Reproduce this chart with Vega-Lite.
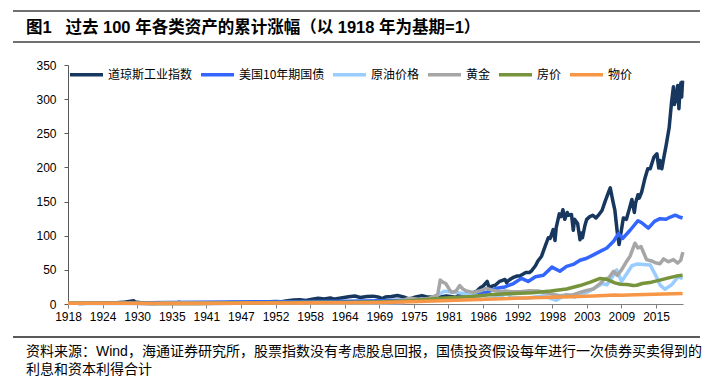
{
"$schema": "https://vega.github.io/schema/vega-lite/v6.json",
"width": 615, "height": 239,
"autosize": {"type": "none"},
"padding": {"left": 68, "top": 65, "right": 37, "bottom": 82},
"background": "white",
"config": {"view": {"stroke": null}, "font": "Liberation Sans, Noto Sans CJK SC", "axis": {"labelOverlap": false}},
"resolve": {"axis": {"x": "independent", "y": "independent"}},
"datasets": {
"series": [
{"series":"道琼斯工业指数","year":1918.92,"value":1.0},{"series":"道琼斯工业指数","year":1919.9,"value":1.3},{"series":"道琼斯工业指数","year":1920.9,"value":0.9},{"series":"道琼斯工业指数","year":1921.9,"value":1.0},{"series":"道琼斯工业指数","year":1922.9,"value":1.2},{"series":"道琼斯工业指数","year":1923.9,"value":1.2},{"series":"道琼斯工业指数","year":1924.9,"value":1.5},{"series":"道琼斯工业指数","year":1925.9,"value":1.9},{"series":"道琼斯工业指数","year":1926.9,"value":1.9},{"series":"道琼斯工业指数","year":1927.9,"value":2.4},{"series":"道琼斯工业指数","year":1928.9,"value":3.7},{"series":"道琼斯工业指数","year":1929.7,"value":4.6},{"series":"道琼斯工业指数","year":1929.9,"value":3.0},{"series":"道琼斯工业指数","year":1930.9,"value":2.0},{"series":"道琼斯工业指数","year":1931.9,"value":1.0},{"series":"道琼斯工业指数","year":1932.5,"value":0.55},{"series":"道琼斯工业指数","year":1932.9,"value":0.75},{"series":"道琼斯工业指数","year":1933.9,"value":1.2},{"series":"道琼斯工业指数","year":1934.9,"value":1.3},{"series":"道琼斯工业指数","year":1935.9,"value":1.8},{"series":"道琼斯工业指数","year":1936.9,"value":2.2},{"series":"道琼斯工业指数","year":1937.2,"value":2.4},{"series":"道琼斯工业指数","year":1937.9,"value":1.5},{"series":"道琼斯工业指数","year":1938.9,"value":1.9},{"series":"道琼斯工业指数","year":1939.9,"value":1.8},{"series":"道琼斯工业指数","year":1940.9,"value":1.6},{"series":"道琼斯工业指数","year":1941.9,"value":1.35},{"series":"道琼斯工业指数","year":1942.9,"value":1.45},{"series":"道琼斯工业指数","year":1943.9,"value":1.65},{"series":"道琼斯工业指数","year":1944.9,"value":1.85},{"series":"道琼斯工业指数","year":1945.9,"value":2.35},{"series":"道琼斯工业指数","year":1946.9,"value":2.15},{"series":"道琼斯工业指数","year":1947.9,"value":2.2},{"series":"道琼斯工业指数","year":1948.9,"value":2.15},{"series":"道琼斯工业指数","year":1949.9,"value":2.45},{"series":"道琼斯工业指数","year":1950.9,"value":2.9},{"series":"道琼斯工业指数","year":1951.9,"value":3.3},{"series":"道琼斯工业指数","year":1952.9,"value":3.55},{"series":"道琼斯工业指数","year":1953.9,"value":3.45},{"series":"道琼斯工业指数","year":1954.9,"value":4.9},{"series":"道琼斯工业指数","year":1955.9,"value":5.9},{"series":"道琼斯工业指数","year":1956.9,"value":6.1},{"series":"道琼斯工业指数","year":1957.9,"value":5.3},{"series":"道琼斯工业指数","year":1958.9,"value":7.1},{"series":"道琼斯工业指数","year":1959.9,"value":8.3},{"series":"道琼斯工业指数","year":1960.9,"value":7.5},{"series":"道琼斯工业指数","year":1961.9,"value":8.9},{"series":"道琼斯工业指数","year":1962.5,"value":7.0},{"series":"道琼斯工业指数","year":1962.9,"value":7.9},{"series":"道琼斯工业指数","year":1963.9,"value":9.3},{"series":"道琼斯工业指数","year":1964.9,"value":10.7},{"series":"道琼斯工业指数","year":1965.9,"value":11.8},{"series":"道琼斯工业指数","year":1966.8,"value":9.6},{"series":"道琼斯工业指数","year":1967.9,"value":11.0},{"series":"道琼斯工业指数","year":1968.9,"value":11.5},{"series":"道琼斯工业指数","year":1969.9,"value":9.8},{"series":"道琼斯工业指数","year":1970.4,"value":8.0},{"series":"道琼斯工业指数","year":1970.9,"value":10.2},{"series":"道琼斯工业指数","year":1971.9,"value":10.9},{"series":"道琼斯工业指数","year":1972.9,"value":12.4},{"series":"道琼斯工业指数","year":1973.9,"value":10.4},{"series":"道琼斯工业指数","year":1974.8,"value":7.2},{"series":"道琼斯工业指数","year":1975.9,"value":10.4},{"series":"道琼斯工业指数","year":1976.9,"value":12.3},{"series":"道琼斯工业指数","year":1977.9,"value":10.1},{"series":"道琼斯工业指数","year":1978.9,"value":9.8},{"series":"道琼斯工业指数","year":1979.9,"value":10.2},{"series":"道琼斯工业指数","year":1980.9,"value":11.8},{"series":"道琼斯工业指数","year":1981.9,"value":10.7},{"series":"道琼斯工业指数","year":1982.5,"value":9.7},{"series":"道琼斯工业指数","year":1982.9,"value":12.8},{"series":"道琼斯工业指数","year":1983.9,"value":15.2},{"series":"道琼斯工业指数","year":1984.5,"value":13.5},{"series":"道琼斯工业指数","year":1984.9,"value":14.8},{"series":"道琼斯工业指数","year":1985.9,"value":18.9},{"series":"道琼斯工业指数","year":1986.5,"value":24},{"series":"道琼斯工业指数","year":1986.9,"value":26},{"series":"道琼斯工业指数","year":1987.6,"value":33},{"series":"道琼斯工业指数","year":1987.9,"value":24},{"series":"道琼斯工业指数","year":1988.5,"value":26.5},{"series":"道琼斯工业指数","year":1988.9,"value":27.5},{"series":"道琼斯工业指数","year":1989.6,"value":33},{"series":"道琼斯工业指数","year":1989.9,"value":34},{"series":"道琼斯工业指数","year":1990.5,"value":36},{"series":"道琼斯工业指数","year":1990.8,"value":31},{"series":"道琼斯工业指数","year":1990.9,"value":33},{"series":"道琼斯工业指数","year":1991.5,"value":37},{"series":"道琼斯工业指数","year":1991.9,"value":39},{"series":"道琼斯工业指数","year":1992.5,"value":41},{"series":"道琼斯工业指数","year":1992.9,"value":41},{"series":"道琼斯工业指数","year":1993.5,"value":44},{"series":"道琼斯工业指数","year":1993.9,"value":46},{"series":"道琼斯工业指数","year":1994.5,"value":46},{"series":"道琼斯工业指数","year":1994.9,"value":49},{"series":"道琼斯工业指数","year":1995.5,"value":56},{"series":"道琼斯工业指数","year":1995.9,"value":63},{"series":"道琼斯工业指数","year":1996.5,"value":70},{"series":"道琼斯工业指数","year":1996.9,"value":80},{"series":"道琼斯工业指数","year":1997.6,"value":97},{"series":"道琼斯工业指数","year":1997.9,"value":96},{"series":"道琼斯工业指数","year":1998.4,"value":109},{"series":"道琼斯工业指数","year":1998.7,"value":93},{"series":"道琼斯工业指数","year":1998.9,"value":112},{"series":"道琼斯工业指数","year":1999.4,"value":132},{"series":"道琼斯工业指数","year":1999.7,"value":128},{"series":"道琼斯工业指数","year":2000.0,"value":138},{"series":"道琼斯工业指数","year":2000.3,"value":124},{"series":"道琼斯工业指数","year":2000.7,"value":134},{"series":"道琼斯工业指数","year":2000.9,"value":130},{"series":"道琼斯工业指数","year":2001.4,"value":131},{"series":"道琼斯工业指数","year":2001.7,"value":108},{"series":"道琼斯工业指数","year":2001.9,"value":124},{"series":"道琼斯工业指数","year":2002.4,"value":118},{"series":"道琼斯工业指数","year":2002.8,"value":94},{"series":"道琼斯工业指数","year":2003.0,"value":104},{"series":"道琼斯工业指数","year":2003.2,"value":97},{"series":"道琼斯工业指数","year":2003.6,"value":115},{"series":"道琼斯工业指数","year":2003.9,"value":124},{"series":"道琼斯工业指数","year":2004.4,"value":128},{"series":"道琼斯工业指数","year":2004.9,"value":130},{"series":"道琼斯工业指数","year":2005.4,"value":126},{"series":"道琼斯工业指数","year":2005.9,"value":131},{"series":"道琼斯工业指数","year":2006.4,"value":137},{"series":"道琼斯工业指数","year":2006.9,"value":150},{"series":"道琼斯工业指数","year":2007.4,"value":162},{"series":"道琼斯工业指数","year":2007.75,"value":170},{"series":"道琼斯工业指数","year":2008.2,"value":150},{"series":"道琼斯工业指数","year":2008.5,"value":138},{"series":"道琼斯工业指数","year":2008.9,"value":105},{"series":"道琼斯工业指数","year":2009.2,"value":87},{"series":"道琼斯工业指数","year":2009.5,"value":104},{"series":"道琼斯工业指数","year":2009.9,"value":126},{"series":"道琼斯工业指数","year":2010.4,"value":124},{"series":"道琼斯工业指数","year":2010.9,"value":140},{"series":"道琼斯工业指数","year":2011.3,"value":153},{"series":"道琼斯工业指数","year":2011.7,"value":134},{"series":"道琼斯工业指数","year":2011.9,"value":148},{"series":"道琼斯工业指数","year":2012.3,"value":160},{"series":"道琼斯工业指数","year":2012.5,"value":155},{"series":"道琼斯工业指数","year":2012.9,"value":164},{"series":"道琼斯工业指数","year":2013.4,"value":183},{"series":"道琼斯工业指数","year":2013.9,"value":198},{"series":"道琼斯工业指数","year":2014.3,"value":198},{"series":"道琼斯工业指数","year":2014.9,"value":215},{"series":"道琼斯工业指数","year":2015.4,"value":220},{"series":"道琼斯工业指数","year":2015.7,"value":199},{"series":"道琼斯工业指数","year":2015.9,"value":210},{"series":"道琼斯工业指数","year":2016.2,"value":198},{"series":"道琼斯工业指数","year":2016.6,"value":218},{"series":"道琼斯工业指数","year":2016.9,"value":232},{"series":"道琼斯工业指数","year":2017.4,"value":258},{"series":"道琼斯工业指数","year":2017.8,"value":296},{"series":"道琼斯工业指数","year":2018.1,"value":318},{"series":"道琼斯工业指数","year":2018.25,"value":292},{"series":"道琼斯工业指数","year":2018.5,"value":300},{"series":"道琼斯工业指数","year":2018.8,"value":320},{"series":"道琼斯工业指数","year":2019.0,"value":286},{"series":"道琼斯工业指数","year":2019.2,"value":318},{"series":"道琼斯工业指数","year":2019.35,"value":324},{"series":"道琼斯工业指数","year":2019.45,"value":303},{"series":"道琼斯工业指数","year":2019.6,"value":327},

{"series":"美国10年期国债","year":1918.92,"value":1.0},{"series":"美国10年期国债","year":1925,"value":1.3},{"series":"美国10年期国债","year":1930,"value":1.6},{"series":"美国10年期国债","year":1935,"value":2.1},{"series":"美国10年期国债","year":1940,"value":2.6},{"series":"美国10年期国债","year":1945,"value":3.0},{"series":"美国10年期国债","year":1950,"value":3.2},{"series":"美国10年期国债","year":1955,"value":3.4},{"series":"美国10年期国债","year":1960,"value":3.7},{"series":"美国10年期国债","year":1965,"value":4.2},{"series":"美国10年期国债","year":1970,"value":4.6},{"series":"美国10年期国债","year":1975,"value":5.8},{"series":"美国10年期国债","year":1980,"value":6.8},{"series":"美国10年期国债","year":1982,"value":8.5},{"series":"美国10年期国债","year":1984,"value":11.5},{"series":"美国10年期国债","year":1985.5,"value":15},{"series":"美国10年期国债","year":1986.4,"value":16.5},{"series":"美国10年期国债","year":1987.5,"value":17},{"series":"美国10年期国债","year":1989.1,"value":23},{"series":"美国10年期国债","year":1990.5,"value":25},{"series":"美国10年期国债","year":1991.9,"value":30},{"series":"美国10年期国债","year":1993.2,"value":37.5},{"series":"美国10年期国债","year":1994.3,"value":33},{"series":"美国10年期国债","year":1995.5,"value":40},{"series":"美国10年期国债","year":1996.8,"value":42},{"series":"美国10年期国债","year":1998.2,"value":54},{"series":"美国10年期国债","year":1999.5,"value":48},{"series":"美国10年期国债","year":2000.6,"value":55},{"series":"美国10年期国债","year":2001.7,"value":58},{"series":"美国10年期国债","year":2002.8,"value":64},{"series":"美国10年期国债","year":2003.9,"value":67},{"series":"美国10年期国债","year":2005,"value":72},{"series":"美国10年期国债","year":2006.1,"value":77},{"series":"美国10年期国债","year":2007.2,"value":82},{"series":"美国10年期国债","year":2008.3,"value":92},{"series":"美国10年期国债","year":2009.1,"value":103},{"series":"美国10年期国债","year":2009.8,"value":96},{"series":"美国10年期国债","year":2011,"value":108},{"series":"美国10年期国债","year":2012.3,"value":122},{"series":"美国10年期国债","year":2012.9,"value":119},{"series":"美国10年期国债","year":2014.0,"value":111},{"series":"美国10年期国债","year":2015.0,"value":121},{"series":"美国10年期国债","year":2015.9,"value":125},{"series":"美国10年期国债","year":2016.9,"value":124},{"series":"美国10年期国债","year":2017.5,"value":127},{"series":"美国10年期国债","year":2018.4,"value":130},{"series":"美国10年期国债","year":2019.2,"value":127},{"series":"美国10年期国债","year":2019.6,"value":126},

{"series":"原油价格","year":1918.92,"value":1.0},{"series":"原油价格","year":1920,"value":1.5},{"series":"原油价格","year":1921,"value":0.8},{"series":"原油价格","year":1925,"value":0.85},{"series":"原油价格","year":1930,"value":0.6},{"series":"原油价格","year":1931.5,"value":0.3},{"series":"原油价格","year":1935,"value":0.5},{"series":"原油价格","year":1940,"value":0.5},{"series":"原油价格","year":1945,"value":0.6},{"series":"原油价格","year":1948,"value":1.3},{"series":"原油价格","year":1957,"value":1.5},{"series":"原油价格","year":1970,"value":1.6},{"series":"原油价格","year":1973.9,"value":2.2},{"series":"原油价格","year":1974.2,"value":5.5},{"series":"原油价格","year":1978,"value":7.0},{"series":"原油价格","year":1979.5,"value":13},{"series":"原油价格","year":1980.5,"value":18.5},{"series":"原油价格","year":1981.5,"value":18},{"series":"原油价格","year":1982.5,"value":17},{"series":"原油价格","year":1984,"value":15},{"series":"原油价格","year":1985.9,"value":13},{"series":"原油价格","year":1986.5,"value":6.5},{"series":"原油价格","year":1988,"value":8},{"series":"原油价格","year":1989.5,"value":10},{"series":"原油价格","year":1990.8,"value":16},{"series":"原油价格","year":1991.5,"value":10},{"series":"原油价格","year":1994,"value":8.5},{"series":"原油价格","year":1996.9,"value":12},{"series":"原油价格","year":1998.9,"value":5.5},{"series":"原油价格","year":2000.5,"value":14},{"series":"原油价格","year":2001.9,"value":10},{"series":"原油价格","year":2003.9,"value":17},{"series":"原油价格","year":2005.5,"value":25},{"series":"原油价格","year":2006.5,"value":30},{"series":"原油价格","year":2007.2,"value":28},{"series":"原油价格","year":2008.0,"value":38},{"series":"原油价格","year":2008.8,"value":50},{"series":"原油价格","year":2009.6,"value":33},{"series":"原油价格","year":2010.5,"value":45},{"series":"原油价格","year":2011.3,"value":56},{"series":"原油价格","year":2012.1,"value":58.5},{"series":"原油价格","year":2014.3,"value":57},{"series":"原油价格","year":2015.2,"value":42},{"series":"原油价格","year":2015.9,"value":28},{"series":"原油价格","year":2016.7,"value":21.5},{"series":"原油价格","year":2017.8,"value":28},{"series":"原油价格","year":2018.9,"value":40},{"series":"原油价格","year":2019.6,"value":37},

{"series":"黄金","year":1918.92,"value":1.0},{"series":"黄金","year":1934.0,"value":1.0},{"series":"黄金","year":1934.1,"value":1.7},{"series":"黄金","year":1968,"value":1.9},{"series":"黄金","year":1970,"value":1.8},{"series":"黄金","year":1971.5,"value":2.0},{"series":"黄金","year":1972.5,"value":3.0},{"series":"黄金","year":1973.5,"value":5.0},{"series":"黄金","year":1974.9,"value":8.5},{"series":"黄金","year":1976.7,"value":6.5},{"series":"黄金","year":1977.9,"value":8.0},{"series":"黄金","year":1978.9,"value":11},{"series":"黄金","year":1979.5,"value":14},{"series":"黄金","year":1979.9,"value":35},{"series":"黄金","year":1980.3,"value":32},{"series":"黄金","year":1980.8,"value":30},{"series":"黄金","year":1981.5,"value":20},{"series":"黄金","year":1981.8,"value":17},{"series":"黄金","year":1982.5,"value":19},{"series":"黄金","year":1983.1,"value":27},{"series":"黄金","year":1983.6,"value":22},{"series":"黄金","year":1984.2,"value":19},{"series":"黄金","year":1985.3,"value":17},{"series":"黄金","year":1986.3,"value":19},{"series":"黄金","year":1987.5,"value":23},{"series":"黄金","year":1988.5,"value":20},{"series":"黄金","year":1989.7,"value":18},{"series":"黄金","year":1990.5,"value":19},{"series":"黄金","year":1991.5,"value":18},{"series":"黄金","year":1993,"value":18},{"series":"黄金","year":1994.5,"value":19.5},{"series":"黄金","year":1996,"value":19},{"series":"黄金","year":1997.3,"value":16},{"series":"黄金","year":1998.5,"value":14},{"series":"黄金","year":1999.5,"value":12},{"series":"黄金","year":2000.5,"value":13},{"series":"黄金","year":2001.5,"value":13},{"series":"黄金","year":2002.8,"value":17},{"series":"黄金","year":2003.9,"value":20},{"series":"黄金","year":2005,"value":22},{"series":"黄金","year":2006.1,"value":30},{"series":"黄金","year":2006.7,"value":36},{"series":"黄金","year":2007.5,"value":38},{"series":"黄金","year":2008.3,"value":48},{"series":"黄金","year":2008.9,"value":42},{"series":"黄金","year":2009.6,"value":50},{"series":"黄金","year":2010.4,"value":62},{"series":"黄金","year":2011.0,"value":70},{"series":"黄金","year":2011.8,"value":89},{"series":"黄金","year":2012.3,"value":82},{"series":"黄金","year":2012.8,"value":84},{"series":"黄金","year":2013.7,"value":65},{"series":"黄金","year":2014.5,"value":63},{"series":"黄金","year":2015.3,"value":60},{"series":"黄金","year":2015.9,"value":59},{"series":"黄金","year":2016.5,"value":66},{"series":"黄金","year":2017.3,"value":62},{"series":"黄金","year":2018.1,"value":65},{"series":"黄金","year":2018.8,"value":60},{"series":"黄金","year":2019.3,"value":64},{"series":"黄金","year":2019.65,"value":76},

{"series":"房价","year":1918.92,"value":1.0},{"series":"房价","year":1925,"value":1.1},{"series":"房价","year":1930,"value":1.0},{"series":"房价","year":1933,"value":0.8},{"series":"房价","year":1940,"value":0.9},{"series":"房价","year":1946,"value":1.4},{"series":"房价","year":1950,"value":1.9},{"series":"房价","year":1955,"value":2.2},{"series":"房价","year":1960,"value":2.4},{"series":"房价","year":1965,"value":2.7},{"series":"房价","year":1970,"value":3.2},{"series":"房价","year":1975,"value":4.8},{"series":"房价","year":1980,"value":8.5},{"series":"房价","year":1985,"value":11},{"series":"房价","year":1988,"value":13.5},{"series":"房价","year":1991,"value":15},{"series":"房价","year":1995,"value":16.5},{"series":"房价","year":1998,"value":19},{"series":"房价","year":2000.6,"value":22},{"series":"房价","year":2002.8,"value":27},{"series":"房价","year":2004.5,"value":32},{"series":"房价","year":2006.1,"value":37.5},{"series":"房价","year":2007.2,"value":36},{"series":"房价","year":2008.5,"value":31},{"series":"房价","year":2009.4,"value":29},{"series":"房价","year":2010.5,"value":28.5},{"series":"房价","year":2011.5,"value":27},{"series":"房价","year":2012.1,"value":27.5},{"series":"房价","year":2013,"value":30},{"series":"房价","year":2014.5,"value":32},{"series":"房价","year":2015.9,"value":35},{"series":"房价","year":2017,"value":37.5},{"series":"房价","year":2018.9,"value":41.5},{"series":"房价","year":2019.6,"value":42},

{"series":"物价","year":1918.92,"value":1.0},{"series":"物价","year":1920.5,"value":1.2},{"series":"物价","year":1922,"value":1.0},{"series":"物价","year":1929,"value":1.0},{"series":"物价","year":1933,"value":0.78},{"series":"物价","year":1940,"value":0.84},{"series":"物价","year":1945,"value":1.08},{"series":"物价","year":1948,"value":1.43},{"series":"物价","year":1950,"value":1.45},{"series":"物价","year":1955,"value":1.6},{"series":"物价","year":1960,"value":1.78},{"series":"物价","year":1965,"value":1.9},{"series":"物价","year":1970,"value":2.3},{"series":"物价","year":1975,"value":3.2},{"series":"物价","year":1980,"value":4.9},{"series":"物价","year":1985,"value":6.4},{"series":"物价","year":1990,"value":7.8},{"series":"物价","year":1995,"value":9.1},{"series":"物价","year":2000,"value":10.3},{"series":"物价","year":2005,"value":11.7},{"series":"物价","year":2008.5,"value":13.2},{"series":"物价","year":2009.5,"value":12.9},{"series":"物价","year":2012,"value":13.7},{"series":"物价","year":2015,"value":14.3},{"series":"物价","year":2019.6,"value":15.4}
]
},
"layer": [
{
"data": {"name": "series"},
"mark": {"type": "line", "strokeWidth": 3.5, "strokeJoin": "round"},
"encoding": {
"x": {"field": "year", "type": "quantitative", "title": null,
"scale": {"domain": [1918.92, 2019.67], "nice": false, "zero": false},
"axis": {"values": [1918.92,1924.58,1930.25,1935.92,1941.58,1947.25,1952.92,1958.58,1964.25,1969.92,1975.58,1981.25,1986.92,1992.58,1998.25,2003.92,2009.58,2015.25],
"labelExpr": "floor(datum.value)", "grid": false, "labelOverlap": false, "labelFlush": false, "labelBound": false,
"labelFont": "Liberation Sans", "labelFontSize": 12, "labelColor": "#000",
"tickSize": 4, "labelPadding": 3, "domainColor": "#7f7f7f", "tickColor": "#7f7f7f"}},
"y": {"field": "value", "type": "quantitative", "title": null,
"scale": {"domain": [0, 350], "nice": false},
"axis": {"values": [0,50,100,150,200,250,300,350], "grid": false, "labelOverlap": false, "labelFlush": false, "labelBound": false,
"labelFont": "Liberation Sans", "labelFontSize": 12, "labelColor": "#000",
"tickSize": 4, "labelPadding": 8, "domainColor": "#595959", "tickColor": "#595959"}},
"color": {"field": "series", "type": "nominal",
"scale": {"domain": ["道琼斯工业指数","美国10年期国债","原油价格","黄金","房价","物价"],
"range": ["#17375E","#3366FF","#99CCFF","#A6A6A6","#77933C","#F79646"]},
"legend": {"orient": "none", "legendX": 0, "legendY": -9, "direction": "horizontal", "columns": 6,
"title": null, "padding": 0, "symbolType": "stroke", "symbolSize": 1089, "symbolStrokeWidth": 3.5,
"labelFont": "Noto Sans CJK SC", "labelFontSize": 12, "labelColor": "#000", "labelOffset": 3, "columnPadding": 1}}
}
},
{
"data": {"values": [{}]},
"mark": {"type": "rule", "color": "#404040", "strokeWidth": 1.5},
"encoding": {
"x": {"datum": 1909.91, "type": "quantitative", "axis": null, "scale": {"domain": [1918.92, 2019.67], "nice": false, "zero": false}},
"x2": {"datum": 2022.45},
"y": {"datum": 429.1, "type": "quantitative", "axis": null, "scale": {"domain": [0, 350], "nice": false}}
}
},
{
"data": {"values": [{}]},
"mark": {"type": "rule", "color": "#404040", "strokeWidth": 1.5},
"encoding": {
"x": {"datum": 1909.91, "type": "quantitative", "axis": null, "scale": {"domain": [1918.92, 2019.67], "nice": false, "zero": false}},
"x2": {"datum": 2022.45},
"y": {"datum": 383.7, "type": "quantitative", "axis": null, "scale": {"domain": [0, 350], "nice": false}}
}
},
{
"data": {"values": [{}]},
"mark": {"type": "rule", "color": "#595959", "strokeWidth": 2},
"encoding": {
"x": {"datum": 1909.91, "type": "quantitative", "axis": null, "scale": {"domain": [1918.92, 2019.67], "nice": false, "zero": false}},
"x2": {"datum": 2022.45},
"y": {"datum": -48.3, "type": "quantitative", "axis": null, "scale": {"domain": [0, 350], "nice": false}}
}
},
{
"data": {"values": [{"text": "图1\u00a0\u00a0\u00a0过去 100 年各类资产的累计涨幅（以 1918 年为基期=1）"}]},
"mark": {"type": "text", "align": "left", "baseline": "middle", "fontSize": 16.5, "fontWeight": "bold", "color": "#000", "font": "Liberation Sans, Noto Sans CJK SC"},
"encoding": {
"x": {"datum": 1912.04, "type": "quantitative", "axis": null, "scale": {"domain": [1918.92, 2019.67], "nice": false, "zero": false}},
"y": {"datum": 404.9, "type": "quantitative", "axis": null, "scale": {"domain": [0, 350], "nice": false}},
"text": {"field": "text"}
}
},
{
"data": {"values": [{"text": "资料来源：Wind，海通证券研究所，股票指数没有考虑股息回报，国债投资假设每年进行一次债券买卖得到的"}]},
"mark": {"type": "text", "align": "left", "baseline": "middle", "fontSize": 14, "color": "#000", "font": "Liberation Sans, Noto Sans CJK SC"},
"encoding": {
"x": {"datum": 1912.04, "type": "quantitative", "axis": null, "scale": {"domain": [1918.92, 2019.67], "nice": false, "zero": false}},
"y": {"datum": -70.3, "type": "quantitative", "axis": null, "scale": {"domain": [0, 350], "nice": false}},
"text": {"field": "text"}
}
},
{
"data": {"values": [{"text": "利息和资本利得合计"}]},
"mark": {"type": "text", "align": "left", "baseline": "middle", "fontSize": 14, "color": "#000", "font": "Liberation Sans, Noto Sans CJK SC"},
"encoding": {
"x": {"datum": 1912.04, "type": "quantitative", "axis": null, "scale": {"domain": [1918.92, 2019.67], "nice": false, "zero": false}},
"y": {"datum": -96.7, "type": "quantitative", "axis": null, "scale": {"domain": [0, 350], "nice": false}},
"text": {"field": "text"}
}
}
]
}
